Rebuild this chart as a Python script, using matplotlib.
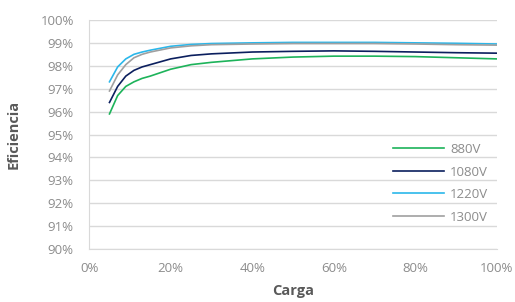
import matplotlib
matplotlib.use('Agg')
from matplotlib import pyplot as plt
from matplotlib.ticker import PercentFormatter

plt.rcParams['font.family'] = ['Open Sans', 'DejaVu Sans']

carga = [5, 7, 9, 11, 13, 15, 20, 25, 30, 40, 50, 60, 70, 80, 90, 100]

v880 = [95.9, 96.7, 97.1, 97.3, 97.45, 97.55, 97.85, 98.05, 98.15, 98.3, 98.38, 98.42, 98.42, 98.4, 98.35, 98.3]
v1080 = [96.4, 97.1, 97.55, 97.8, 97.95, 98.05, 98.3, 98.45, 98.52, 98.6, 98.63, 98.65, 98.63, 98.6, 98.57, 98.55]
v1220 = [97.3, 97.95, 98.3, 98.5, 98.6, 98.68, 98.85, 98.93, 98.97, 99.0, 99.02, 99.02, 99.02, 99.0, 98.98, 98.95]
v1300 = [96.9, 97.6, 98.05, 98.35, 98.5, 98.6, 98.78, 98.87, 98.92, 98.95, 98.97, 98.97, 98.97, 98.95, 98.92, 98.9]

series = [('880V', v880, '#1db35a'),
          ('1080V', v1080, '#0b1f5e'),
          ('1220V', v1220, '#2bb7ea'),
          ('1300V', v1300, '#a0a0a0')]

fig = plt.figure(figsize=(5.15, 3.02), dpi=100)
ax = fig.add_axes([0.173, 0.175, 0.792, 0.759])

for nombre, valores, color in series:
    ax.plot(carga, valores, color=color, lw=1.2, label=nombre)

ax.set_xlim(0, 100)
ax.set_ylim(90, 100)
ax.set_xticks(range(0, 101, 20))
ax.set_yticks(range(90, 101))
ax.xaxis.set_major_formatter(PercentFormatter(decimals=0))
ax.yaxis.set_major_formatter(PercentFormatter(decimals=0))

ax.grid(axis='y', color='#d9d9d9', lw=1)
ax.set_axisbelow(True)
for lado in ['top', 'right']:
    ax.spines[lado].set_visible(False)
ax.spines['left'].set_color('#d9d9d9')
ax.spines['bottom'].set_color('#d9d9d9')
ax.tick_params(length=0, colors='#8c8c8c', labelsize=9.5)
ax.tick_params(axis='x', pad=9)
ax.tick_params(axis='y', pad=11)

ax.set_xlabel('Carga', fontsize=10.5, fontweight='bold', color='#595959', labelpad=7)
ax.set_ylabel('Eficiencia', fontsize=10.5, fontweight='bold', color='#595959', labelpad=14)

ax.legend(loc='lower right', bbox_to_anchor=(1.008, 0.06), frameon=False,
          handlelength=3.9, handletextpad=0.45, labelspacing=0.72,
          fontsize=9.5, labelcolor='#8c8c8c')

plt.savefig('out.png', dpi=100)
